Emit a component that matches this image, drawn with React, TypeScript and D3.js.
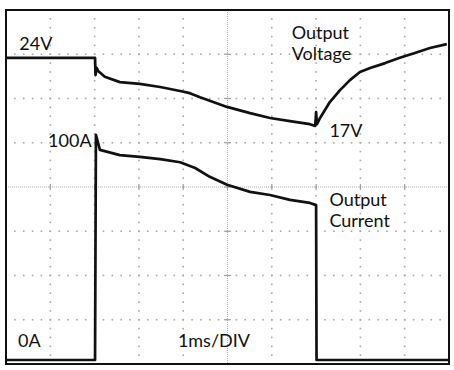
import * as d3 from "d3";

// time in ms (1 ms / div), traces in screen divisions (0 = bottom, 8 = top)
const voltTime = [0, 2.01, 2.02, 2.05, 2.08, 2.23, 2.57, 3.02, 3.48, 3.93, 4.15, 4.38, 4.99, 5.51, 5.96, 6.41, 6.86, 6.98, 7.0, 7.02, 7.09, 7.31, 7.54, 7.77, 7.99, 8.22, 8.56, 8.89, 9.23, 9.57, 9.95];
const voltDiv = [6.92, 6.92, 6.53, 6.69, 6.62, 6.49, 6.37, 6.33, 6.26, 6.17, 6.12, 6.03, 5.81, 5.67, 5.56, 5.49, 5.42, 5.38, 5.69, 5.42, 5.56, 5.92, 6.19, 6.42, 6.6, 6.69, 6.8, 6.92, 7.03, 7.14, 7.23];

const currTime = [0, 2.01, 2.03, 2.12, 2.57, 3.02, 3.48, 3.93, 4.27, 4.6, 4.99, 5.51, 5.96, 6.41, 6.86, 7.0, 7.01, 9.98];
const currDiv = [0.09, 0.09, 5.18, 4.84, 4.72, 4.68, 4.63, 4.56, 4.43, 4.23, 4.05, 3.89, 3.82, 3.71, 3.64, 3.59, 0.09, 0.09];

const xDivs = d3.range(0, 11);
const yDivs = d3.range(0, 9);

const labels = [
  { text: "24V", t: 0.3, v: 7.09 },
  { text: "100A", t: 0.95, v: 4.9 },
  { text: "Output", t: 6.45, v: 7.34 },
  { text: "Voltage", t: 6.45, v: 6.87 },
  { text: "17V", t: 7.3, v: 5.13 },
  { text: "Output", t: 7.3, v: 3.56 },
  { text: "Current", t: 7.3, v: 3.1 },
  { text: "0A", t: 0.27, v: 0.39 },
  { text: "1ms/DIV", t: 3.88, v: 0.39 },
];

export default function App() {
  const width = 454;
  const height = 370;
  const frame = { left: 6, top: 10, right: 449, bottom: 364 };

  const x = d3.scaleLinear().domain([0, 10]).range([frame.left, frame.right]);
  const y = d3.scaleLinear().domain([0, 8]).range([frame.bottom, frame.top]);

  const line = d3.line<[number, number]>()
    .x(d => x(d[0]))
    .y(d => y(d[1]));

  const voltPath = line(voltTime.map((t, i) => [t, voltDiv[i]]));
  const currPath = line(currTime.map((t, i) => [t, currDiv[i]]));

  // grid dots every 1/5 division along each dotted line
  const sub = d3.range(0, 50.01, 1).map(k => k / 5);
  const subY = d3.range(0, 40.01, 1).map(k => k / 5);
  const dots: [number, number][] = [];
  xDivs.slice(1, -1).forEach(t => {
    if (t === 5) return;
    subY.forEach(v => dots.push([x(t), y(v)]));
  });
  yDivs.slice(1, -1).forEach(v => {
    if (v === 4) return;
    sub.forEach(t => dots.push([x(t), y(v)]));
  });

  return (
    <svg width={width} height={height} style={{ position: "absolute", left: 0, top: 0, background: "#fff" }}>
      <rect x={0} y={0} width={width} height={height} fill="#fff" />
      {/* dotted graticule */}
      <g fill="#a8a8a8">
        {dots.map((d, i) => (
          <rect key={i} x={d[0] - 0.8} y={d[1] - 0.8} width={1.6} height={1.6} />
        ))}
      </g>
      {/* center axes with division ticks */}
      <g stroke="#b0b0b0" strokeWidth={1} strokeDasharray="1,1">
        <line x1={frame.left} x2={frame.right} y1={y(4)} y2={y(4)} />
        <line x1={x(5)} x2={x(5)} y1={frame.top} y2={frame.bottom} />
      </g>
      <g stroke="#a0a0a0" strokeWidth={1.2}>
        {xDivs.slice(1, -1).map(t => (
          <line key={"tx" + t} x1={x(t)} x2={x(t)} y1={y(4) - 3} y2={y(4) + 3} />
        ))}
        {yDivs.slice(1, -1).map(v => (
          <line key={"ty" + v} x1={x(5) - 3.5} x2={x(5) + 3.5} y1={y(v)} y2={y(v)} />
        ))}
      </g>
      {/* traces */}
      <path d={currPath ?? ""} fill="none" stroke="#111" strokeWidth={2.7} strokeLinejoin="round" />
      <path d={voltPath ?? ""} fill="none" stroke="#111" strokeWidth={2.7} strokeLinejoin="round" />
      {/* frame */}
      <rect
        x={frame.left}
        y={frame.top}
        width={frame.right - frame.left}
        height={frame.bottom - frame.top}
        fill="none"
        stroke="#111"
        strokeWidth={2}
      />
      <g fontFamily="Lato, 'Liberation Sans', sans-serif" fontSize={18} fill="#111">
        {labels.map((l, i) => (
          <text key={i} x={x(l.t)} y={y(l.v)}>{l.text}</text>
        ))}
      </g>
    </svg>
  );
}
